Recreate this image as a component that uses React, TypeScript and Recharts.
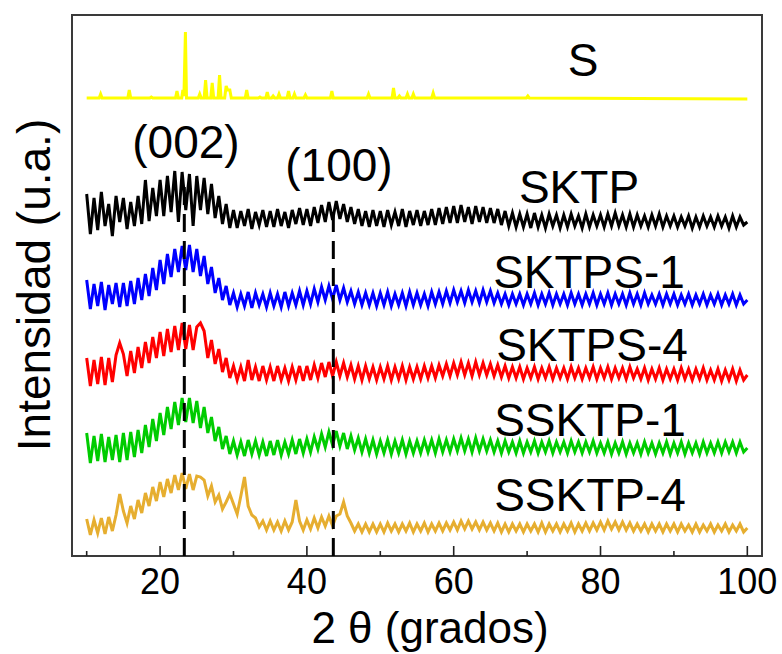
import { LineChart, Line, XAxis, YAxis, ReferenceLine, ReferenceArea } from "recharts";

// 2θ sampling of the broad patterns (degrees)
const THETA_START = 10;
const THETA_STEP = 0.5;

// stacked intensities (u.a., offset per sample), one value per 0.5°
const SKTP = [
  362, 322, 358, 326, 364, 330, 352, 320, 360, 334,
  358, 327, 354, 330, 360, 332, 376, 335, 368, 340,
  376, 340, 380, 344, 385, 334, 384, 346, 382, 330,
  380, 346, 378, 342, 372, 338, 360, 332, 352, 328,
  346, 328, 345, 330, 347, 327, 344, 331, 346, 329,
  345, 329, 347, 330, 344, 328, 346, 332, 348, 331,
  347, 330, 349, 333, 351, 334, 354, 336, 355, 337,
  352, 334, 349, 332, 347, 330, 345, 329, 346, 330,
  345, 329, 346, 331, 344, 330, 347, 329, 345, 331,
  346, 330, 345, 331, 347, 331, 348, 332, 349, 333,
  350, 333, 351, 334, 349, 332, 350, 334, 349, 333,
  348, 333, 347, 331, 345, 330, 343, 329, 342, 329,
  342, 328, 343, 329, 341, 328, 342, 330, 341, 328,
  341, 329, 342, 330, 340, 328, 342, 329, 341, 330,
  341, 329, 342, 330, 343, 330, 341, 329, 342, 329,
  341, 330, 340, 329, 341, 330, 342, 329, 340, 330,
  340, 329, 339, 330, 340, 328, 339, 329, 340, 330,
  339, 329, 340, 330, 339, 328, 340, 329, 339, 331,
  334,
];

const SKTPS_1 = [
  276, 247, 272, 250, 274, 246, 271, 252, 273, 249,
  273, 250, 275, 252, 278, 256, 282, 260, 288, 266,
  296, 272, 302, 279, 307, 284, 310, 286, 311, 284,
  307, 280, 300, 272, 289, 263, 278, 256, 270, 251,
  263, 249, 262, 250, 264, 248, 263, 251, 262, 249,
  263, 250, 262, 249, 264, 250, 263, 251, 265, 251,
  265, 252, 267, 254, 269, 256, 270, 257, 271, 256,
  268, 254, 265, 252, 264, 251, 263, 251, 263, 250,
  263, 251, 264, 250, 262, 251, 263, 250, 264, 251,
  263, 251, 262, 250, 264, 252, 264, 252, 265, 253,
  266, 254, 265, 253, 266, 254, 265, 253, 266, 254,
  265, 253, 263, 252, 262, 251, 262, 252, 262, 251,
  262, 252, 263, 251, 262, 252, 263, 251, 262, 252,
  262, 251, 263, 252, 262, 251, 262, 252, 263, 251,
  262, 252, 263, 251, 262, 252, 262, 251, 263, 252,
  262, 251, 263, 252, 261, 252, 262, 251, 262, 252,
  262, 251, 261, 252, 262, 251, 261, 252, 262, 251,
  261, 252, 262, 251, 261, 252, 262, 251, 261, 252,
  256,
];

const SKTPS_4 = [
  198, 170, 196, 172, 199, 171, 198, 174, 201, 213,
  202, 180, 205, 183, 209, 188, 214, 193, 219, 198,
  224, 200, 227, 204, 230, 206, 233, 207, 231, 206,
  229, 233, 225, 198, 216, 192, 207, 184, 198, 178,
  190, 176, 189, 175, 196, 176, 189, 175, 190, 176,
  189, 175, 190, 176, 188, 175, 189, 176, 190, 175,
  190, 176, 191, 178, 193, 179, 194, 180, 194, 180,
  193, 179, 191, 177, 190, 176, 190, 177, 189, 176,
  189, 177, 190, 176, 189, 177, 190, 176, 189, 177,
  189, 177, 190, 178, 190, 178, 191, 180, 192, 180,
  193, 181, 194, 181, 193, 180, 194, 181, 193, 181,
  192, 180, 191, 179, 190, 178, 189, 178, 189, 177,
  188, 178, 189, 177, 188, 178, 189, 177, 188, 178,
  188, 177, 189, 178, 188, 177, 188, 178, 189, 177,
  188, 178, 189, 177, 188, 178, 188, 177, 189, 178,
  187, 177, 188, 176, 187, 177, 188, 176, 187, 177,
  187, 176, 188, 177, 187, 176, 187, 177, 188, 176,
  186, 176, 187, 175, 186, 176, 187, 175, 186, 176,
  181,
];

const SSKTP_1 = [
  123, 93, 120, 95, 122, 94, 119, 96, 121, 94,
  123, 96, 124, 99, 126, 103, 131, 109, 137, 115,
  143, 121, 149, 127, 154, 131, 158, 134, 158, 133,
  155, 128, 149, 123, 139, 115, 129, 107, 120, 102,
  115, 101, 114, 100, 116, 102, 115, 101, 114, 100,
  115, 101, 116, 101, 114, 102, 116, 102, 117, 103,
  117, 104, 119, 107, 122, 109, 124, 111, 125, 110,
  123, 107, 120, 106, 118, 104, 117, 103, 116, 102,
  115, 103, 116, 102, 115, 103, 116, 102, 115, 103,
  115, 103, 116, 104, 116, 103, 117, 104, 116, 104,
  117, 105, 118, 105, 117, 104, 118, 105, 117, 105,
  116, 104, 115, 103, 115, 104, 114, 103, 115, 103,
  114, 104, 115, 103, 114, 104, 115, 103, 114, 104,
  114, 103, 115, 104, 114, 103, 114, 104, 115, 103,
  113, 103, 114, 102, 113, 103, 114, 102, 113, 103,
  113, 102, 114, 103, 113, 102, 113, 103, 114, 102,
  113, 103, 114, 102, 113, 103, 113, 102, 114, 103,
  113, 103, 114, 103, 114, 104, 114, 103, 114, 104,
  108,
];

const SSKTP_4 = [
  37, 21, 36, 23, 38, 22, 39, 25, 41, 62,
  45, 33, 50, 37, 56, 43, 63, 50, 69, 55,
  74, 59, 77, 63, 81, 66, 83, 67, 82, 66,
  80, 79, 76, 60, 70, 54, 61, 47, 54, 62,
  52, 42, 60, 79, 50, 41, 38, 29, 35, 26,
  35, 26, 34, 25, 35, 26, 34, 56, 35, 26,
  36, 27, 38, 28, 39, 30, 40, 30, 40, 42,
  54, 40, 33, 25, 32, 24, 32, 24, 32, 24,
  32, 24, 33, 25, 32, 24, 32, 25, 33, 24,
  32, 25, 33, 24, 32, 25, 33, 25, 33, 26,
  34, 26, 35, 27, 35, 27, 34, 26, 34, 26,
  33, 25, 33, 24, 32, 24, 32, 25, 32, 24,
  32, 25, 32, 24, 33, 24, 32, 25, 32, 24,
  32, 25, 33, 24, 32, 25, 33, 25, 33, 26,
  34, 26, 35, 27, 34, 26, 34, 26, 33, 25,
  32, 25, 32, 24, 32, 25, 32, 24, 32, 25,
  32, 24, 32, 25, 31, 24, 32, 24, 31, 25,
  32, 24, 31, 25, 32, 24, 31, 25, 32, 24,
  28,
];

// crystalline sulfur reference: sharp reflections on a flat baseline
const S_THETA = [
  10, 11.7, 11.9, 12.1, 15.6, 15.8, 16.0, 18.6, 18.8, 19.0,
  22.1, 22.3, 22.5, 22.95, 23.1, 23.25, 23.45, 23.6,
  25.2, 25.4, 25.6, 26.0, 26.2, 26.4, 26.9, 27.1, 27.3,
  27.9, 28.1, 28.3, 28.8, 29.0, 29.2, 29.5, 29.7,
  31.6, 31.8, 32.0, 33.4, 33.6, 33.8, 34.4, 34.6, 34.8,
  35.2, 35.4, 35.6, 36.0, 36.2, 36.4, 37.3, 37.5, 37.7,
  38.1, 38.3, 38.5, 39.6, 39.8, 40.0, 43.2, 43.4, 43.6,
  48.2, 48.4, 48.6, 51.6, 51.8, 52.0, 52.4, 52.6, 52.8,
  53.5, 53.7, 53.9, 54.3, 54.5, 54.7, 57.0, 57.2, 57.4,
  69.9, 70.1, 70.3, 100,
];
const S_INT = [
  458, 458, 462, 458, 458, 466, 458, 458, 459, 458,
  458, 465, 458, 458, 466, 460, 524, 458,
  458, 462, 458, 458, 476, 458, 458, 473, 458,
  458, 481, 458, 458, 470, 466, 466, 458,
  458, 466, 458, 458, 459, 458, 458, 464, 458,
  458, 460, 458, 458, 462, 458, 458, 465, 458,
  458, 462, 458, 458, 461, 458, 458, 465, 458,
  458, 462, 458, 458, 468, 458, 458, 460, 458,
  458, 462, 458, 458, 462, 458, 458, 463, 458,
  458, 460, 458, 457,
];

const X_TICKS = [10, 20, 30, 40, 50, 60, 70, 80, 90, 100];
const PEAK_002 = 23.3;
const PEAK_100 = 43.6;

const FONT = "'Liberation Sans', Arial, sans-serif";

const toRows = (vals: number[]) =>
  vals.map((v, i) => ({ theta: THETA_START + i * THETA_STEP, v }));

const sRows = S_THETA.map((t, i) => ({ theta: t, v: S_INT[i] }));

const XTick = (props: any) => {
  const { x, y, payload } = props;
  const major = payload.value % 20 === 0;
  return (
    <g>
      <line x1={x} x2={x} y1={y} y2={y - (major ? 10 : 5)} stroke="#222" strokeWidth={1.6} />
      {major && (
        <text x={x} y={y + 38} textAnchor="middle" fontSize={36} fontFamily={FONT} fill="#000">
          {payload.value}
        </text>
      )}
    </g>
  );
};

const labelStyle = { fontSize: 46, fontFamily: FONT, fill: "#000" };

const NOISE_W = 3;

export default function App() {
  return (
    <div style={{ position: "absolute", left: 0, top: 0, width: 782, height: 654, background: "#fff" }}>
      <LineChart width={782} height={654} margin={{ top: 15, right: 20, bottom: 58, left: 72 }}>
        <XAxis
          type="number"
          dataKey="theta"
          domain={[8, 102]}
          ticks={X_TICKS}
          interval={0}
          axisLine={false}
          tickLine={false}
          tickSize={0}
          tickMargin={0}
          height={40}
          tick={XTick}
          allowDataOverflow
        />
        <YAxis type="number" domain={[0, 541]} hide allowDataOverflow />
        <ReferenceArea x1={8} x2={102} y1={0} y2={541} fill="none" stroke="#3a3a3a" strokeWidth={2} ifOverflow="visible" />
        <Line data={toRows(SKTP)} dataKey="v" stroke="#000000" strokeWidth={NOISE_W} dot={false} isAnimationActive={false} />
        <Line data={toRows(SKTPS_1)} dataKey="v" stroke="#0000ff" strokeWidth={NOISE_W} dot={false} isAnimationActive={false} />
        <Line data={toRows(SKTPS_4)} dataKey="v" stroke="#ff0000" strokeWidth={NOISE_W} dot={false} isAnimationActive={false} />
        <Line data={toRows(SSKTP_1)} dataKey="v" stroke="#00cc00" strokeWidth={NOISE_W} dot={false} isAnimationActive={false} />
        <Line data={toRows(SSKTP_4)} dataKey="v" stroke="#e6ae30" strokeWidth={NOISE_W} dot={false} isAnimationActive={false} />
        <Line data={sRows} dataKey="v" stroke="#ffff00" strokeWidth={3} dot={false} isAnimationActive={false} />
        <ReferenceLine
          segment={[{ x: PEAK_002, y: 0 }, { x: PEAK_002, y: 376 }]}
          stroke="#000"
          strokeWidth={3}
          strokeDasharray="18 9"
        />
        <ReferenceLine
          segment={[{ x: PEAK_100, y: 0 }, { x: PEAK_100, y: 344 }]}
          stroke="#000"
          strokeWidth={3}
          strokeDasharray="18 9"
        />
      </LineChart>
      <svg width={782} height={654} style={{ position: "absolute", left: 0, top: 0, pointerEvents: "none" }}>
        <text x={583} y={76} textAnchor="middle" {...labelStyle}>S</text>
        <text x={186} y={158} textAnchor="middle" {...labelStyle}>(002)</text>
        <text x={339} y={181} textAnchor="middle" {...labelStyle}>(100)</text>
        <text x={579} y={203} textAnchor="middle" {...labelStyle}>SKTP</text>
        <text x={589} y={288} textAnchor="middle" {...labelStyle}>SKTPS-1</text>
        <text x={592} y={361} textAnchor="middle" {...labelStyle}>SKTPS-4</text>
        <text x={590} y={436} textAnchor="middle" {...labelStyle}>SSKTP-1</text>
        <text x={590} y={511} textAnchor="middle" {...labelStyle}>SSKTP-4</text>
        <text x={430} y={643} textAnchor="middle" fontSize={44} fontFamily={FONT} fill="#000">2 θ (grados)</text>
        <text x={50} y={285} textAnchor="middle" transform="rotate(-90 50 285)" {...labelStyle}>
          Intensidad (u.a.)
        </text>
      </svg>
    </div>
  );
}
